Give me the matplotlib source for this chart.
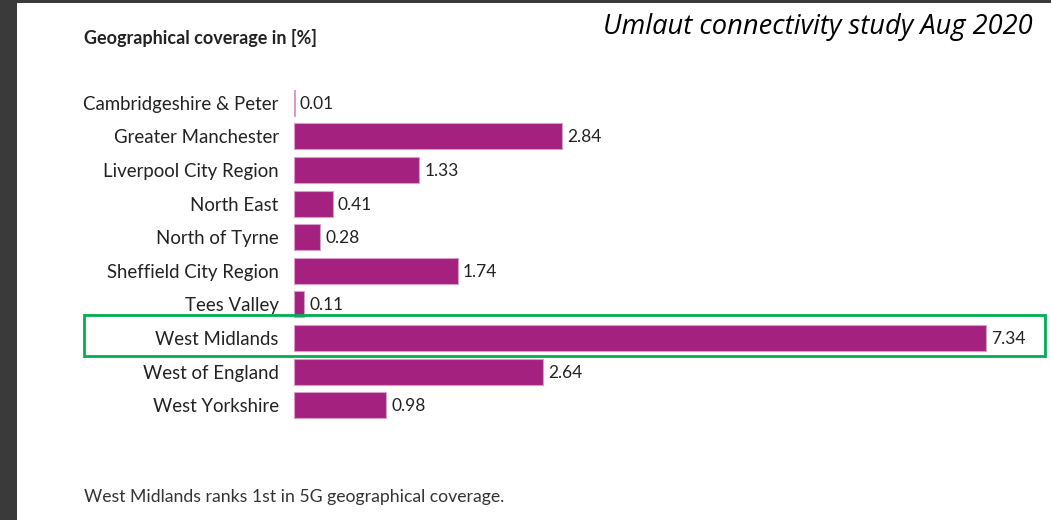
import matplotlib
matplotlib.use("Agg")
import matplotlib.pyplot as plt
from matplotlib.patches import Rectangle

categories = ["Cambridgeshire & Peter", "Greater Manchester", "Liverpool City Region",
              "North East", "North of Tyrne", "Sheffield City Region", "Tees Valley",
              "West Midlands", "West of England", "West Yorkshire"]
values = [0.01, 2.84, 1.33, 0.41, 0.28, 1.74, 0.11, 7.34, 2.64, 0.98]
value_labels = ["0.01", "2.84", "1.33", "0.41", "0.28", "1.74", "0.11", "7.34", "2.64", "0.98"]

W, H = 1051, 520
fig = plt.figure(figsize=(W/100, H/100), dpi=100)
fig.patch.set_facecolor("white")

# dark frame strips
fig.add_artist(Rectangle((0, 0), 17/W, 1, transform=fig.transFigure, color="#3a3a3a", lw=0))
fig.add_artist(Rectangle((0, 1-3/H), 1, 3/H, transform=fig.transFigure, color="#3a3a3a", lw=0))

left, right = 294, 1045
top, bottom = 86, 422
ax = fig.add_axes([left/W, 1-bottom/H, (right-left)/W, (bottom-top)/H])
scale = (986-294)/7.34
ax.set_xlim(0, (right-left)/scale)
ax.set_ylim(len(categories)-0.5, -0.5)

ypos = list(range(len(categories)))
ax.barh(ypos, values, height=0.77, color="#a4217f", edgecolor="#d99cc6", linewidth=0.8)
for y, v, lab in zip(ypos, values, value_labels):
    ax.text(v + 5/scale, y + 0.03, lab, va="center", ha="left", fontsize=12.5,
            family="Lato", color="#222222")

ax.set_yticks(ypos)
ax.set_yticklabels(categories, fontsize=13.4, family="Lato", color="#222222")
ax.tick_params(axis="y", length=0, pad=11)
ax.set_xticks([])
for s in ax.spines.values():
    s.set_visible(False)
ax.patch.set_alpha(0)

fig.text(84/W, 1-38/H, "Geographical coverage in [%]", fontsize=13, family="Lato",
         weight="bold", color="#222222", va="center", ha="left")
fig.text(1033/W, 1-27/H, "Umlaut connectivity study Aug 2020", fontsize=19.6,
         family="Open Sans", style="italic", color="black", va="center", ha="right")
fig.text(84/W, 1-497/H, "West Midlands ranks 1st in 5G geographical coverage.",
         fontsize=12.7, family="Lato", color="#333333", va="center", ha="left")

fig.add_artist(Rectangle((84/W, 1-356/H), (1045-84)/W, (356-315)/H,
                         transform=fig.transFigure, fill=False, edgecolor="#00b050", lw=2))

fig.savefig("out.png", dpi=100)
